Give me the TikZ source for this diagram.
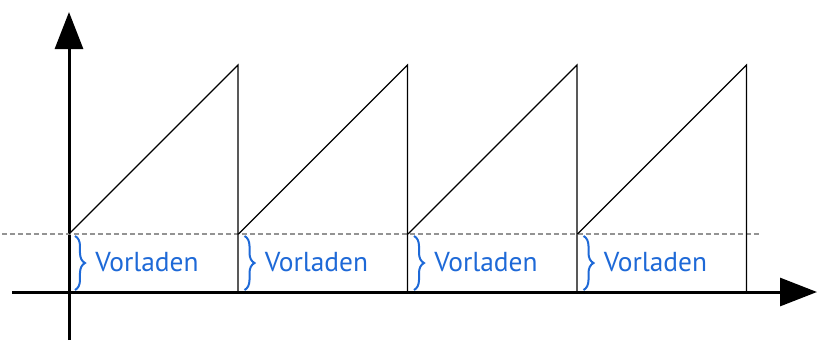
\documentclass[tikz,border=0pt]{standalone}
\usepackage{fontspec}
\setmainfont{PT Sans}
\usetikzlibrary{arrows.meta,decorations.pathreplacing}
\definecolor{vorblau}{RGB}{30,105,215}
\begin{document}
\begin{tikzpicture}[x=0.02cm,y=-0.02cm,every node/.style={font=\fontsize{15.6}{18}\selectfont},
  achse/.style={line width=0.06cm,-{Triangle[length=0.74cm,width=0.56cm]}},
  klammer/.style={vorblau,line width=0.04cm,decorate,decoration={brace,amplitude=0.2cm}}]
\useasboundingbox (0,0) rectangle (819,343);
% Achsen
\coordinate (xa) at (12,292); \coordinate (xe) at (817,292); \coordinate (ya) at (69,340); \coordinate (ye) at (69,12);
\draw[achse] (xa) -- (xe); \draw[achse] (ya) -- (ye);
% Vorlade-Niveau
\coordinate (dl) at (2,234); \coordinate (dr) at (760,234);
\draw[gray!85,line width=0.05cm,dash pattern=on 0.1cm off 0.06cm] (dl) -- (dr);
% Saegezahn
\foreach \i in {0,...,3} {
  \coordinate (s\i) at ({69+169.5*\i},234); \coordinate (p\i) at ({238+169.5*\i},65); \coordinate (b\i) at ({238+169.5*\i},292);
  \coordinate (ko\i) at ({75+169.5*\i},236); \coordinate (ku\i) at ({75+169.5*\i},290);
  \draw[line width=0.025cm] (s\i) -- (p\i) -- (b\i);
  \draw[klammer] (ko\i) -- (ku\i);
  \node[vorblau,anchor=west,inner sep=0pt] (v\i) at ({95+169.5*\i},262) {Vorladen};
}
\end{tikzpicture}
\end{document}
